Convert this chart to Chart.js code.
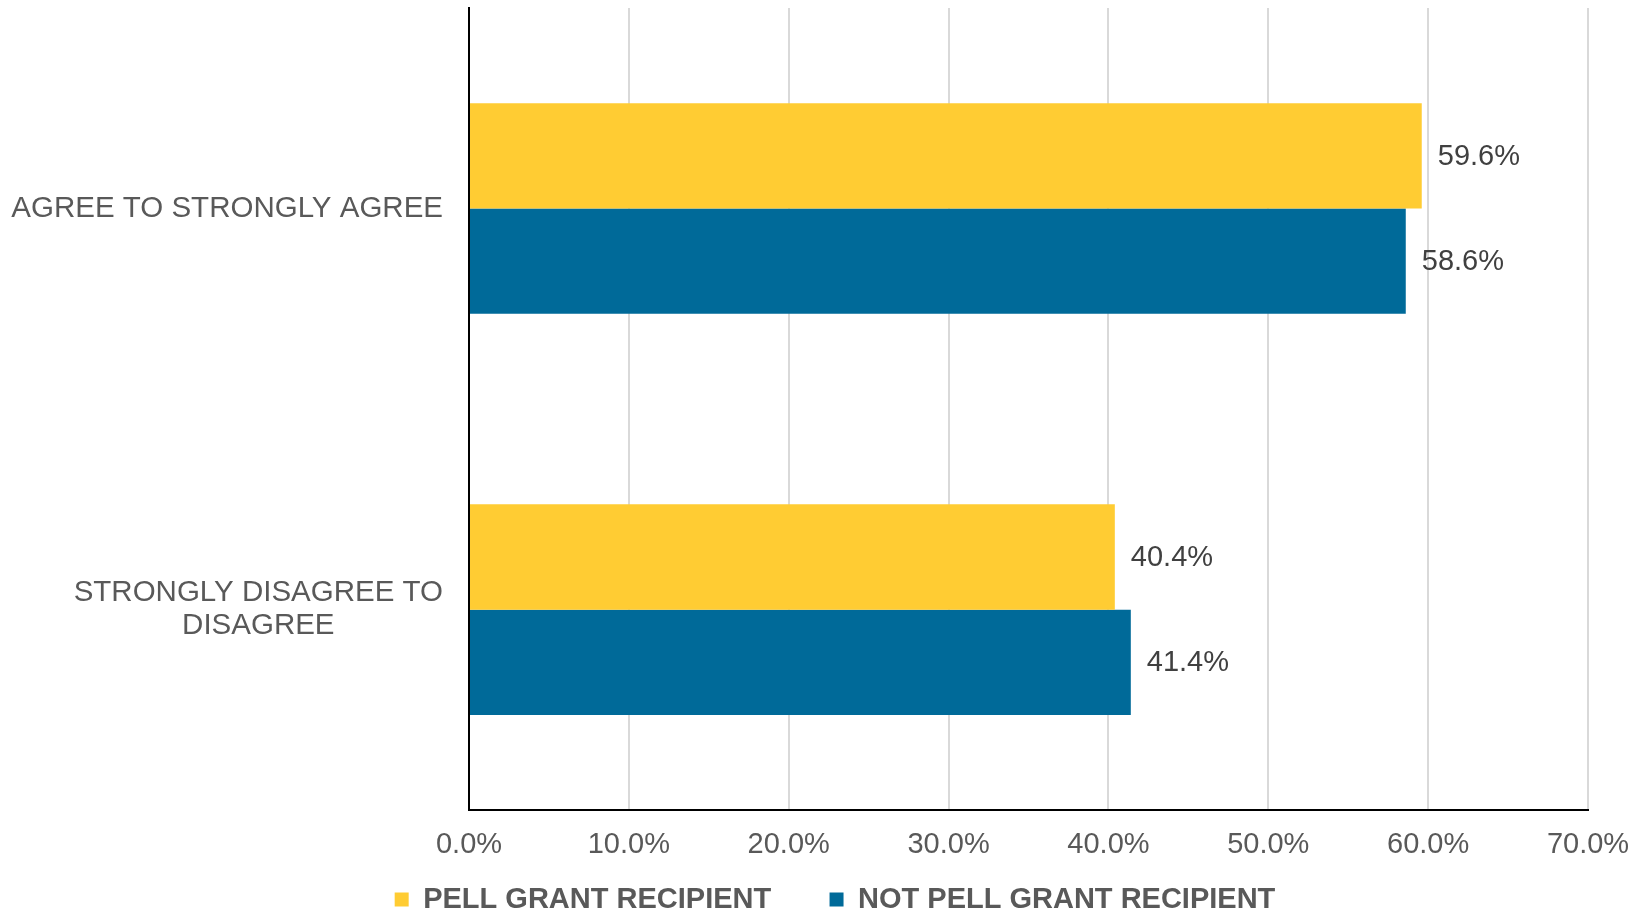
<!DOCTYPE html>
<html>
<head>
<meta charset="utf-8">
<script src="https://cdn.jsdelivr.net/npm/chart.js@4"></script>
<style>
  html, body { margin: 0; padding: 0; background: #fff; }
  #wrap { width: 1649px; height: 914px; }
</style>
</head>
<body>
<div id="wrap"><canvas id="chart"></canvas></div>
<script>
// data
const categories = [['AGREE TO STRONGLY AGREE'], ['STRONGLY DISAGREE TO', 'DISAGREE']];
const seriesNames = ['PELL GRANT RECIPIENT', 'NOT PELL GRANT RECIPIENT'];
const pellValues = [59.6, 40.4];
const notPellValues = [58.6, 41.4];
const xTickValues = [0, 10, 20, 30, 40, 50, 60, 70];

const FONT = '"Liberation Sans", Arial, sans-serif';
const TEXT_GRAY = '#595959';

// category labels: block right-aligned, lines centred inside the block
const categoryLabels = {
    id: 'categoryLabels',
    afterDraw(chart) {
        const ctx = chart.ctx;
        const yScale = chart.scales.y;
        ctx.save();
        ctx.font = '29.5px ' + FONT;
        ctx.fillStyle = TEXT_GRAY;
        ctx.textAlign = 'center';
        ctx.textBaseline = 'middle';
        const right = yScale.right - 26;
        categories.forEach((lines, i) => {
            const w = Math.max(...lines.map(l => ctx.measureText(l).width));
            const cx = right - w / 2;
            const cy = yScale.getPixelForTick(i);
            lines.forEach((l, j) => {
                ctx.fillText(l, cx, cy + (j - (lines.length - 1) / 2) * 33);
            });
        });
        ctx.restore();
    }
};

// value labels at the end of each bar
const valueLabels = {
    id: 'valueLabels',
    afterDatasetsDraw(chart) {
        const ctx = chart.ctx;
        ctx.save();
        ctx.font = '29px ' + FONT;
        ctx.fillStyle = '#404040';
        ctx.textAlign = 'left';
        ctx.textBaseline = 'middle';
        chart.data.datasets.forEach((ds, di) => {
            chart.getDatasetMeta(di).data.forEach((bar, i) => {
                ctx.fillText(ds.data[i].toFixed(1) + '%', bar.x + 16, bar.y + 1);
            });
        });
        ctx.restore();
    }
};

const ctx = document.getElementById('chart').getContext('2d');
const chart = new Chart(ctx, {
    type: 'bar',
    data: {
        labels: categories,
        datasets: [
            { label: seriesNames[0], data: pellValues, backgroundColor: '#FFCC33', borderWidth: 0 },
            { label: seriesNames[1], data: notPellValues, backgroundColor: '#006A99', borderWidth: 0 }
        ]
    },
    options: {
        indexAxis: 'y',
        responsive: true,
        maintainAspectRatio: false,
        devicePixelRatio: 1,
        animation: false,
        layout: { padding: { top: 8, left: 21, right: 0, bottom: -10 } },
        datasets: { bar: { categoryPercentage: 0.525, barPercentage: 1 } },
        scales: {
            x: {
                min: 0,
                max: 70,
                afterBuildTicks: s => { s.ticks = xTickValues.map(v => ({ value: v })); },
                afterFit: s => { s.paddingRight = 61; s.height -= 4; },
                grid: { color: '#D9D9D9', lineWidth: 2, drawTicks: false },
                border: { color: '#000', width: 2 },
                ticks: {
                    padding: 17,
                    color: TEXT_GRAY,
                    font: { family: FONT, size: 29 },
                    callback: v => v.toFixed(1) + '%'
                }
            },
            y: {
                afterFit: s => { s.width = 448; },
                grid: { display: false, drawTicks: false },
                border: { color: '#000', width: 2 },
                ticks: { display: false }
            }
        },
        plugins: {
            tooltip: { enabled: false },
            legend: {
                position: 'bottom',
                labels: {
                    boxWidth: 14,
                    boxHeight: 14,
                    padding: 10,
                    color: TEXT_GRAY,
                    font: { family: FONT, size: 29, weight: 'bold' },
                    generateLabels: c => {
                        const items = Chart.defaults.plugins.legend.labels.generateLabels(c);
                        items[0].text = items[0].text + '      ';
                        return items;
                    }
                }
            }
        }
    },
    plugins: [categoryLabels, valueLabels]
});
</script>
</body>
</html>
